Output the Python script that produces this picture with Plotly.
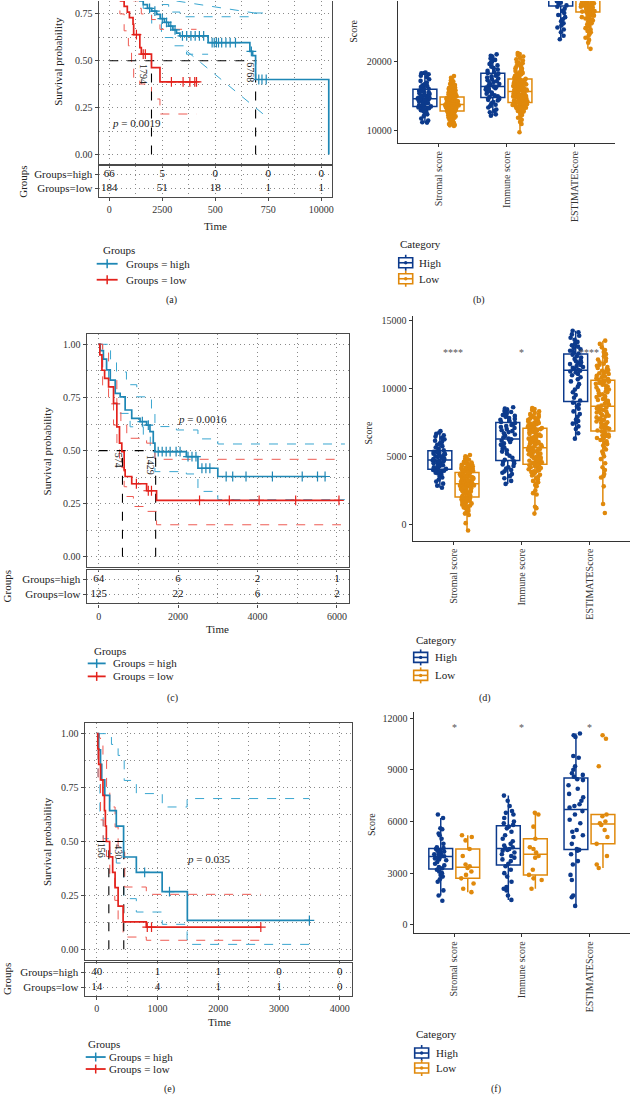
import plotly.graph_objects as go

W, H = 634, 1096
SERIF = "Liberation Serif"
BLUE = "#1E87B5"
BLUE_CI = "#3AA6D0"
RED = "#E3221C"
RED_CI = "#EE5A52"
HI = "#0C3A8C"
LO = "#E0890C"
FRAME = "#4a4a4a"
GRID = "#8a8a8a"
GRID_DASH = "1px,3.5px"

# ---------------- (a) KM data ----------------
a_high_t = [0, 150, 300, 500, 700, 900, 1100, 1300, 1440, 1600, 1800, 2000, 2230, 2400, 2600, 2800, 3000, 3170, 3330, 4660, 6630, 6760, 6900, 10350]
a_high_s = [1.0, 0.99, 0.975, 0.955, 0.93, 0.90, 0.87, 0.84, 0.82, 0.80, 0.78, 0.765, 0.748, 0.725, 0.705, 0.685, 0.665, 0.648, 0.633, 0.597, 0.55, 0.527, 0.40, 0.0]
a_high_cens = [1900, 2150, 2500, 2700, 2900, 3100, 3450, 3650, 3850, 4050, 4250, 4450, 4850, 4950, 5050, 5150, 5300, 5500, 5700, 5950, 6700, 7050, 7200, 7400]
a_low_t = [0, 100, 200, 300, 400, 550, 700, 850, 950, 1120, 1150, 1440, 1510, 1990, 2390, 4113]
a_low_s = [1.0, 0.97, 0.93, 0.90, 0.86, 0.82, 0.79, 0.76, 0.73, 0.695, 0.64, 0.57, 0.535, 0.464, 0.387, 0.387]
a_low_cens = [1280, 1600, 1700, 2930, 3480, 3800, 4030, 4113]
a_high_up_t = [0, 1500, 2000, 2400, 2800, 3330, 6860, 7255]
a_high_up_s = [1.0, 0.95, 0.88, 0.80, 0.76, 0.735, 0.755, 0.76]
a_high_up2_t = [3170, 7255]
a_high_up2_s = [0.819, 0.748]
a_high_lo_t = [0, 800, 1300, 1600, 2000, 2460, 3000, 3640, 4660]
a_high_lo_s = [1.0, 0.92, 0.85, 0.78, 0.70, 0.624, 0.58, 0.535, 0.535]
a_high_lo2_t = [3640, 7255]
a_high_lo2_s = [0.553, 0.216]
a_low_up_t = [0, 900, 1130, 1440, 1510, 1990, 2390, 4113]
a_low_up_s = [1.0, 0.90, 0.82, 0.78, 0.75, 0.72, 0.668, 0.668]
a_low_lo_t = [0, 300, 500, 700, 900, 1050, 1150, 1440, 1990, 2390, 4113]
a_low_lo_s = [1.0, 0.85, 0.75, 0.66, 0.58, 0.475, 0.41, 0.376, 0.296, 0.216, 0.216]
a_median_t = [1990, 6900]
a_median_lab = ["1794", "6768"]
a_median_lab_pos = [(1627, 0.431), (6675, 0.44)]
a_p = ("0.0019", 1297, 0.167)
a_ticks = [0, 2500, 5000, 7500, 10000]
a_ticktext = ["0", "2500", "500", "750", "10000"]
a_minor = [1250, 3750, 6250, 8750]
a_risk_high = [66, 5, 0, 0, 0]
a_risk_low = [184, 51, 18, 1, 1]

# ---------------- (c) KM data ----------------
c_high_t = [0, 40, 120, 200, 292, 417, 542, 667, 833, 1042, 1208, 1292, 1375, 1417, 2208, 2500, 3000, 5700]
c_high_s = [1.0, 0.97, 0.93, 0.88, 0.832, 0.769, 0.753, 0.691, 0.652, 0.636, 0.620, 0.589, 0.535, 0.495, 0.472, 0.417, 0.378, 0.378]
c_high_cens = [1100, 1250, 1500, 1600, 1700, 1800, 1950, 2050, 2250, 2350, 2450, 2600, 2700, 2800, 3210, 3375, 3710, 4375, 5125, 5510, 5700]
c_low_t = [0, 30, 83, 150, 250, 375, 458, 525, 583, 642, 667, 833, 1208, 1458, 6050]
c_low_s = [1.0, 0.95, 0.878, 0.84, 0.80, 0.722, 0.612, 0.535, 0.495, 0.409, 0.378, 0.344, 0.311, 0.266, 0.266]
c_low_cens = [950, 1250, 1330, 2540, 3290, 4040, 4960, 6050]
c_high_up_t = [0, 300, 450, 700, 960, 1330, 1417, 1958, 2500, 3000, 6200]
c_high_up_s = [1.0, 0.93, 0.87, 0.81, 0.753, 0.691, 0.613, 0.597, 0.555, 0.531, 0.531]
c_high_lo_t = [0, 100, 250, 375, 542, 792, 1125, 1300, 1417, 2208, 2500, 3000, 6200]
c_high_lo_s = [1.0, 0.88, 0.80, 0.72, 0.675, 0.612, 0.565, 0.50, 0.401, 0.39, 0.308, 0.269, 0.269]
c_low_up_t = [0, 100, 250, 300, 458, 560, 708, 1208, 1417, 6100]
c_low_up_s = [1.0, 0.96, 0.88, 0.84, 0.72, 0.62, 0.558, 0.535, 0.459, 0.459]
c_low_lo_t = [0, 100, 250, 375, 460, 525, 583, 642, 708, 875, 1208, 1458, 6100]
c_low_lo_s = [1.0, 0.80, 0.72, 0.62, 0.53, 0.46, 0.42, 0.33, 0.284, 0.237, 0.214, 0.151, 0.151]
c_median_t = [600, 1435]
c_median_lab = ["574", "1429"]
c_median_lab_pos = [(492, 0.456), (1292, 0.433)]
c_p = ("0.0016", 2617, 0.647)
c_ticks = [0, 2000, 4000, 6000]
c_ticktext = ["0", "2000", "4000", "6000"]
c_minor = [1000, 3000, 5000]
c_risk_high = [64, 6, 2, 1]
c_risk_low = [125, 22, 6, 2]

# ---------------- (e) KM data ----------------
e_high_t = [0, 30, 60, 80, 130, 210, 320, 440, 650, 1075, 1490, 3500]
e_high_s = [1.0, 0.925, 0.857, 0.786, 0.714, 0.643, 0.571, 0.428, 0.357, 0.268, 0.134, 0.134]
e_high_cens = [787, 1196, 3500]
e_low_t = [0, 15, 30, 60, 100, 125, 140, 156, 210, 260, 300, 350, 432, 814, 2700]
e_low_s = [1.0, 0.929, 0.857, 0.786, 0.714, 0.643, 0.571, 0.50, 0.429, 0.357, 0.286, 0.20, 0.127, 0.103, 0.103]
e_low_cens = [830, 900, 2700]
e_high_up_t = [0, 240, 350, 450, 650, 1077, 1486, 3500]
e_high_up_s = [1.0, 0.95, 0.899, 0.783, 0.722, 0.66, 0.699, 0.699]
e_high_lo_t = [0, 20, 50, 104, 213, 320, 443, 650, 1077, 1486, 3500]
e_high_lo_s = [1.0, 0.80, 0.62, 0.513, 0.444, 0.40, 0.235, 0.173, 0.116, 0.023, 0.023]
e_low_up_t = [0, 40, 60, 100, 160, 213, 300, 350, 459, 814, 2700]
e_low_up_s = [1.0, 0.98, 0.95, 0.90, 0.73, 0.66, 0.567, 0.45, 0.289, 0.255, 0.255]
e_low_lo_t = [0, 20, 60, 104, 159, 213, 295, 350, 432, 814, 2700]
e_low_lo_s = [1.0, 0.78, 0.60, 0.50, 0.43, 0.33, 0.227, 0.12, 0.057, 0.042, 0.042]
e_median_t = [197, 443]
e_median_lab = ["156", "430"]
e_median_lab_pos = [(77, 0.459), (360, 0.451)]
e_p = ("0.035", 1836, 0.42)
e_ticks = [0, 1000, 2000, 3000, 4000]
e_ticktext = ["0", "1000", "2000", "3000", "4000"]
e_minor = [500, 1500, 2500, 3500]
e_risk_high = [40, 1, 1, 0, 0]
e_risk_low = [14, 4, 1, 1, 0]

# ---------------- box plot data ----------------
categories = ["Stromal score", "Immune score", "ESTIMATEScore"]

b_str_hi = [11200, 11250, 11500, 11800, 12150, 12400, 12600, 12750, 12900, 13000, 13150, 13250, 13300, 13400, 13500, 13550, 13650, 13700, 13800, 13900,
            14000, 14050, 14150, 14250, 14350, 14400, 14500, 14550, 14600, 14650, 14700, 14800, 14850, 14950, 15000, 15100, 15150, 15250, 15350, 15450,
            15550, 15650, 15750, 15800, 15950, 16100, 16200, 16350, 16500, 16600, 16800, 17000, 17250, 17500, 17800, 18000, 18200, 18350, 18400, 18450]
b_str_lo = [10700, 10800, 10850, 11000, 11100, 11150, 11300, 11400, 11450, 11600, 11700, 11750, 11900, 11950, 12050, 12100, 12200, 12250, 12350, 12400,
            12450, 12500, 12550, 12600, 12650, 12700, 12750, 12800, 12850, 12880, 12920, 12950, 13000, 13050, 13080, 13100, 13150, 13200, 13230, 13250,
            13300, 13330, 13350, 13400, 13420, 13450, 13500, 13520, 13550, 13600, 13620, 13650, 13680, 13700, 13720, 13740, 13760, 13780, 13790, 13800,
            13820, 13850, 13880, 13900, 13950, 14000, 14020, 14050, 14100, 14120, 14150, 14200, 14250, 14280, 14300, 14350, 14400, 14420, 14450, 14500,
            14550, 14600, 14620, 14650, 14700, 14750, 14780, 14800, 14850, 14880, 14920, 14950, 15000, 15050, 15100, 15200, 15250, 15300, 15400, 15450,
            15550, 15600, 15700, 15800, 15900, 16000, 16100, 16200, 16300, 16400, 16500, 16650, 16800, 16900, 17000, 17150, 17300, 17500, 17700, 17950]
b_imm_hi = [12200, 12400, 12700, 12900, 13100, 13400, 13600, 13800, 14000, 14200, 14400, 14500, 14600, 14700, 14800,
            14900, 15000, 15150, 15300, 15400, 15550, 15700, 15800, 15900, 16000, 16100, 16200, 16300, 16350, 16400,
            16450, 16550, 16700, 16800, 16950, 17100, 17200, 17350, 17500, 17600, 17750, 17900, 18000, 18150, 18300,
            18400, 18550, 18700, 18900, 19100, 19300, 19500, 19700, 19900, 20100, 20300, 20500, 20700, 20900, 21100]
b_imm_lo = [9800, 11000, 11300, 11600, 11900, 12100, 12300, 12500, 12650, 12800, 12900, 13000, 13100, 13200, 13300, 13350, 13400, 13500, 13550, 13600,
            13650, 13700, 13750, 13800, 13850, 13900, 13950, 14000, 14050, 14100, 14150, 14200, 14250, 14300, 14350, 14400, 14450, 14500, 14550, 14600,
            14650, 14700, 14750, 14800, 14850, 14900, 14950, 15000, 15050, 15100, 15150, 15200, 15250, 15300, 15350, 15400, 15450, 15550, 15600, 15700,
            15750, 15800, 15850, 15900, 16000, 16050, 16100, 16150, 16200, 16300, 16350, 16400, 16450, 16500, 16600, 16650, 16700, 16750, 16800, 16850,
            16900, 17000, 17050, 17100, 17150, 17200, 17300, 17350, 17400, 17500, 17550, 17650, 17700, 17800, 17900, 18000, 18100, 18200, 18300, 18400,
            18500, 18600, 18700, 18850, 19000, 19100, 19250, 19400, 19500, 19650, 19800, 19900, 20000, 20200, 20400, 20600, 20800, 21000, 21150, 21300]
b_est_hi = [23300, 23800, 24300, 24700, 25000, 25300, 25600, 25900, 26200, 26500, 26800, 27100, 27400, 27700, 28000,
            28200, 28400, 28600, 28800, 29000, 29300, 29500, 29800, 30000, 30200, 30400, 30600, 30750, 30900, 31000,
            31150, 31300, 31500, 31650, 31800, 32000, 32150, 32300, 32500, 32650, 32800, 33000, 33150, 33300, 33500,
            33700, 33900, 34100, 34300, 34500, 34700, 34900, 35100, 35300, 35600, 35900, 36200, 36600, 37000, 37500]
b_est_lo = [21900, 22800, 23200, 23500, 23800, 24100, 24300, 24500, 24700, 24900, 25100, 25300, 25450, 25600, 25750, 25900, 26000, 26100, 26200, 26300,
            26400, 26500, 26600, 26700, 26800, 26850, 26900, 27000, 27100, 27200, 27300, 27350, 27400, 27500, 27550, 27600, 27700, 27750, 27800, 27900,
            27950, 28000, 28100, 28150, 28200, 28300, 28350, 28400, 28500, 28600, 28650, 28700, 28800, 28900, 29000, 29100, 29200, 29300, 29400, 29500,
            29600, 29700, 29800, 29900, 30000, 30100, 30200, 30300, 30400, 30500, 30550, 30600, 30700, 30800, 30900, 31000, 31100, 31200, 31250, 31300,
            31400, 31450, 31500, 31600, 31700, 31750, 31800, 31850, 31900, 32000, 32100, 32200, 32300, 32400, 32500, 32600, 32700, 32800, 32900, 33000,
            33100, 33200, 33300, 33450, 33600, 33750, 33900, 34050, 34200, 34350, 34500, 34650, 34800, 35000, 35200, 35400, 35600, 35800, 36100, 36500]

d_str_hi = [2700, 2850, 3000, 3150, 3300, 3450, 3550, 3650, 3750, 3800, 3850, 3900, 3950, 4000, 4030,
            4080, 4150, 4200, 4250, 4300, 4350, 4400, 4450, 4500, 4550, 4580, 4620, 4650, 4680, 4700,
            4750, 4800, 4850, 4900, 4950, 5000, 5050, 5100, 5150, 5200, 5230, 5260, 5300, 5340, 5380,
            5450, 5550, 5650, 5750, 5850, 5950, 6050, 6150, 6250, 6350, 6450, 6550, 6650, 6750, 6850]
d_str_lo = [-440, 100, 700, 800, 900, 1000, 1100, 1150, 1200, 1250, 1300, 1350, 1400, 1450, 1500, 1550, 1600, 1650, 1700, 1720,
            1750, 1780, 1800, 1830, 1860, 1890, 1920, 1950, 1980, 2000, 2050, 2100, 2150, 2200, 2250, 2300, 2350, 2400, 2430, 2460,
            2500, 2530, 2560, 2600, 2630, 2660, 2700, 2720, 2750, 2780, 2800, 2830, 2850, 2870, 2890, 2910, 2930, 2950, 2970, 2980,
            3000, 3030, 3060, 3090, 3120, 3150, 3180, 3210, 3240, 3270, 3300, 3330, 3360, 3390, 3420, 3450, 3480, 3510, 3540, 3570,
            3600, 3620, 3640, 3660, 3680, 3700, 3730, 3760, 3790, 3810, 3840, 3870, 3900, 3930, 3960, 4000, 4030, 4060, 4090, 4120,
            4150, 4180, 4210, 4240, 4270, 4300, 4340, 4380, 4420, 4460, 4500, 4550, 4600, 4650, 4700, 4750, 4820, 4900, 5000, 5100]
d_imm_hi = [2980, 3200, 3400, 3550, 3700, 3800, 3900, 4000, 4100, 4200, 4300, 4400, 4500, 4580, 4640,
            4750, 4900, 5050, 5200, 5350, 5450, 5550, 5650, 5750, 5850, 5950, 6050, 6150, 6200, 6250,
            6300, 6400, 6500, 6600, 6700, 6780, 6850, 6920, 7000, 7080, 7150, 7220, 7300, 7380, 7450,
            7520, 7600, 7680, 7750, 7820, 7900, 7970, 8040, 8100, 8180, 8250, 8330, 8420, 8500, 8600]
d_imm_lo = [800, 1200, 1300, 2200, 2300, 2500, 2800, 2900, 3000, 3100, 3200, 3300, 3400, 3500, 3600, 3650, 3700, 3800, 3850, 3900,
            3950, 4000, 4050, 4100, 4150, 4200, 4250, 4300, 4350, 4400, 4440, 4480, 4520, 4560, 4600, 4640, 4680, 4720, 4760, 4800,
            4840, 4880, 4920, 4960, 5000, 5050, 5100, 5150, 5200, 5240, 5280, 5320, 5360, 5400, 5440, 5480, 5520, 5550, 5580, 5600,
            5650, 5700, 5750, 5800, 5850, 5900, 5950, 6000, 6050, 6100, 6150, 6200, 6250, 6300, 6350, 6400, 6450, 6500, 6550, 6600,
            6650, 6700, 6750, 6800, 6850, 6900, 6940, 6970, 7000, 7040, 7080, 7120, 7160, 7200, 7240, 7280, 7320, 7360, 7400, 7440,
            7480, 7520, 7560, 7600, 7640, 7680, 7720, 7760, 7800, 7850, 7900, 7950, 8000, 8050, 8100, 8200, 8300, 8400, 8480, 8550]
d_est_hi = [6300, 6700, 7000, 7200, 7400, 7500, 7600, 7700, 7900, 8100, 8300, 8500, 8650, 8800, 8940,
            9100, 9300, 9500, 9700, 9900, 10100, 10300, 10500, 10650, 10800, 10950, 11050, 11150, 11230, 11290,
            11350, 11420, 11490, 11560, 11630, 11700, 11770, 11840, 11910, 11980, 12050, 12150, 12250, 12350, 12460,
            12550, 12650, 12750, 12850, 12950, 13050, 13150, 13250, 13400, 13550, 13700, 13850, 13950, 14100, 14220]
d_est_lo = [850, 1500, 2800, 3450, 3550, 3700, 4000, 4200, 4500, 4800, 5000, 5200, 5350, 5500, 5650, 5800, 5900, 6000, 6100, 6200,
            6300, 6350, 6400, 6450, 6500, 6550, 6600, 6700, 6780, 6840, 6900, 6960, 7020, 7080, 7140, 7200, 7260, 7320, 7380, 7440,
            7500, 7560, 7620, 7680, 7740, 7800, 7860, 7920, 7980, 8040, 8100, 8160, 8220, 8280, 8340, 8400, 8460, 8520, 8590, 8650,
            8720, 8790, 8860, 8930, 9000, 9070, 9140, 9210, 9280, 9350, 9420, 9490, 9560, 9630, 9700, 9770, 9840, 9910, 9980, 10050,
            10120, 10190, 10260, 10320, 10380, 10430, 10470, 10500, 10530, 10560, 10620, 10680, 10740, 10800, 10860, 10920, 10980, 11040, 11100, 11160,
            11220, 11280, 11340, 11400, 11480, 11560, 11640, 11720, 11800, 11900, 12000, 12100, 12200, 12350, 12500, 12650, 12800, 13000, 13250, 13490]

f_str_hi = [1400, 1700, 2000, 2500, 2650, 2800, 2900, 3000, 3100, 3200, 3280, 3350, 3450, 3550, 3650, 3750, 3800, 3850, 3900, 3950,
            3980, 4000, 4050, 4100, 4150, 4200, 4250, 4300, 4350, 4400, 4450, 4500, 4700, 5000, 5200, 5300, 5550, 5600, 6200, 6400]
f_str_lo = [1900, 2100, 2400, 2700, 2900, 3100, 3300, 3400, 3500, 4000, 4400, 4900, 5100, 5200]
f_imm_hi = [1450, 1700, 2000, 2100, 2200, 2500, 2800, 3000, 3200, 3400, 3550, 3700, 3800, 3900, 4000, 4100, 4200, 4300, 4350, 4400,
            4450, 4500, 4600, 4700, 4850, 5000, 5200, 5400, 5600, 5700, 5800, 5900, 6000, 6200, 6400, 6500, 6600, 6900, 7200, 7500]
f_imm_lo = [2100, 2600, 2700, 2900, 3200, 3900, 4000, 4200, 4400, 4500, 5000, 5700, 6400, 6500]
f_est_hi = [1100, 1600, 1700, 2600, 2900, 3500, 3700, 4100, 4300, 4350, 4400, 4700, 5100, 5200, 5400, 5500, 5900, 6100, 6400, 6600,
            6800, 6900, 7000, 7200, 7400, 7600, 7900, 8100, 8400, 8450, 8600, 8700, 8800, 9000, 9200, 9700, 9800, 10900, 11000, 11100]
f_est_lo = [3300, 3500, 4000, 4700, 5100, 5500, 5800, 5900, 6000, 6300, 6400, 9200, 10800, 11000]

d_stars = ["****", "*", "****"]
f_stars = ["*", "*", "*"]

km_legend_labels = ["Groups = high", "Groups = low"]
box_legend_labels = ["High", "Low"]


# ---------------- helpers ----------------
def dx(a, b):
    return [a / W, b / W]


def dy(top, bottom):
    return [max(0, 1 - bottom / H), min(1, 1 - top / H)]


def px(x):
    return x / W


def py(y):
    return 1 - y / H


def surv_at(ts, ss, t):
    v = ss[0]
    for ti, si in zip(ts, ss):
        if ti <= t:
            v = si
    return v


fig = go.Figure()
annotations = []
shapes = []


def ann(text, x, y, size=11, angle=0, color="#222", xanchor="center"):
    annotations.append(dict(text=text, x=px(x), y=py(y), xref="paper", yref="paper",
                            showarrow=False, textangle=angle, xanchor=xanchor, yanchor="middle",
                            font=dict(family=SERIF, size=size, color=color)))


def pline(x0, y0, x1, y1, color, width):
    shapes.append(dict(type="line", xref="paper", yref="paper", x0=px(x0), y0=py(y0), x1=px(x1), y1=py(y1),
                       line=dict(color=color, width=width)))


def tick_font(size=10, color="#333"):
    return dict(family=SERIF, size=size, color=color)


def km_legend(tx, ty, ix0, ix1, txt_x, y_hi, y_lo):
    ann("Groups", tx, ty, 11, xanchor="left")
    for y, col, lab in [(y_hi, BLUE, km_legend_labels[0]), (y_lo, RED, km_legend_labels[1])]:
        pline(ix0, y, ix1, y, col, 1.8)
        mid = (ix0 + ix1) / 2
        pline(mid, y - 4.5, mid, y + 4.5, col, 1.5)
        ann(lab, txt_x, y, 11, xanchor="left")


def box_legend(tx, ty, ix0, txt_x, y_hi, y_lo):
    ann("Category", tx, ty, 11, xanchor="left")
    for y, col, lab in [(y_hi, HI, box_legend_labels[0]), (y_lo, LO, box_legend_labels[1])]:
        shapes.append(dict(type="rect", xref="paper", yref="paper", x0=px(ix0), x1=px(ix0 + 14),
                           y0=py(y + 5), y1=py(y - 5), line=dict(color=col, width=1.6)))
        pline(ix0, y, ix0 + 14, y, col, 1.6)
        pline(ix0 + 7, y - 8, ix0 + 7, y - 5, col, 1.6)
        pline(ix0 + 7, y + 5, ix0 + 7, y + 8, col, 1.6)
        shapes.append(dict(type="circle", xref="paper", yref="paper", x0=px(ix0 + 5.3), x1=px(ix0 + 8.7),
                           y0=py(y + 1.7), y1=py(y - 1.7), fillcolor=col, line=dict(width=0)))
        ann(lab, txt_x, y, 11, xanchor="left")


def km_panel(k_main, k_tab, xdom, ymain_dom, ytab_dom, xrange, ytop, ticks, ticktext, minor,
             high, low, cis, medians, med_labels, med_pos, pval, risk_hi, risk_lo, top_line):
    xm, ym = ("x" if k_main == 1 else f"x{k_main}"), ("y" if k_main == 1 else f"y{k_main}")
    xt, yt = f"x{k_tab}", f"y{k_tab}"
    for (ts, ss, col, shape) in cis:
        fig.add_trace(go.Scatter(x=ts, y=ss, mode="lines", xaxis=xm, yaxis=ym, showlegend=False,
                                 line=dict(color=col, width=1, dash="dash", shape=shape), hoverinfo="skip"))
    fig.add_trace(go.Scatter(x=[0, max(medians)], y=[0.5, 0.5], mode="lines", xaxis=xm, yaxis=ym,
                             showlegend=False, line=dict(color="black", width=1.1, dash="dash")))
    for m in medians:
        fig.add_trace(go.Scatter(x=[m, m], y=[0, 0.5], mode="lines", xaxis=xm, yaxis=ym,
                                 showlegend=False, line=dict(color="black", width=1.1, dash="dash")))
    for (ts, ss, cens, col) in [high + (BLUE,), low + (RED,)]:
        fig.add_trace(go.Scatter(x=ts, y=ss, mode="lines", xaxis=xm, yaxis=ym, showlegend=False,
                                 line=dict(color=col, width=1.7, shape="hv")))
        fig.add_trace(go.Scatter(x=cens, y=[surv_at(ts, ss, c) for c in cens], mode="markers",
                                 xaxis=xm, yaxis=ym, showlegend=False,
                                 marker=dict(symbol="cross-thin", size=7, line=dict(color=col, width=1.2))))
    for lab, (tx, sy) in zip(med_labels, med_pos):
        annotations.append(dict(text=lab, x=tx, y=sy, xref=xm, yref=ym, showarrow=False, textangle=90,
                                font=dict(family=SERIF, size=10, color="#222")))
    annotations.append(dict(text=f"<i>p</i> = {pval[0]}", x=pval[1], y=pval[2], xref=xm, yref=ym,
                            showarrow=False, font=dict(family=SERIF, size=11, color="#222")))
    fig.add_trace(go.Scatter(x=ticks, y=[2] * len(ticks), mode="text", text=[str(v) for v in risk_hi],
                             xaxis=xt, yaxis=yt, showlegend=False,
                             textfont=dict(family=SERIF, size=11, color="#111")))
    fig.add_trace(go.Scatter(x=ticks, y=[1] * len(ticks), mode="text", text=[str(v) for v in risk_lo],
                             xaxis=xt, yaxis=yt, showlegend=False,
                             textfont=dict(family=SERIF, size=11, color="#111")))

    grid = dict(showgrid=True, gridcolor=GRID, griddash=GRID_DASH, gridwidth=1)
    minor_x = dict(tickvals=minor, showgrid=True, gridcolor=GRID, griddash=GRID_DASH, gridwidth=1, ticks="")
    lay = {}
    lay["xaxis" if k_main == 1 else f"xaxis{k_main}"] = dict(
        domain=xdom, range=xrange, anchor=ym, tickvals=ticks, showticklabels=False, ticks="outside",
        ticklen=3, tickcolor=FRAME, showline=True, linecolor=FRAME, linewidth=1.3,
        mirror=top_line, zeroline=False, minor=minor_x, **grid)
    lay["yaxis" if k_main == 1 else f"yaxis{k_main}"] = dict(
        domain=ymain_dom, range=[-0.05, ytop], anchor=xm, tickvals=[0, 0.25, 0.5, 0.75, 1.0],
        ticktext=["0.00", "0.25", "0.50", "0.75", "1.00"], ticks="outside", ticklen=3, tickcolor=FRAME,
        showline=True, linecolor=FRAME, linewidth=1.3, mirror=True, zeroline=False, tickfont=tick_font(),
        minor=dict(tickvals=[0.125, 0.375, 0.625, 0.875], showgrid=True, gridcolor=GRID, griddash=GRID_DASH,
                   ticks=""),
        **grid)
    lay[f"xaxis{k_tab}"] = dict(
        domain=xdom, range=xrange, anchor=yt, tickvals=ticks, ticktext=ticktext, ticks="outside",
        ticklen=3, tickcolor=FRAME, showline=True, linecolor=FRAME, linewidth=1.3, mirror=True,
        zeroline=False, tickfont=tick_font(), minor=minor_x, **grid)
    lay[f"yaxis{k_tab}"] = dict(
        domain=ytab_dom, range=[0.4, 2.6], anchor=xt, tickvals=[1, 2], ticktext=["Groups=low", "Groups=high"],
        ticks="outside", ticklen=3, tickcolor=FRAME, showline=True, linecolor=FRAME, linewidth=1.3,
        mirror=True, zeroline=False, tickfont=tick_font(11, "#222"), **grid)
    fig.update_layout(**lay)


def box_panel(k, xdom, ydom, yrange, yticks, hi_lists, lo_lists, stars, star_y):
    xa, ya = f"x{k}", f"y{k}"
    for name, lists, col in [("High", hi_lists, HI), ("Low", lo_lists, LO)]:
        xs, ys = [], []
        for c, vals in zip(categories, lists):
            xs += [c] * len(vals)
            ys += vals
        fig.add_trace(go.Box(x=xs, y=ys, name=name, xaxis=xa, yaxis=ya, showlegend=False, offsetgroup=name,
                             boxpoints="all", jitter=0.65, pointpos=0,
                             marker=dict(color=col, size=4.6, opacity=1, line=dict(width=0)),
                             line=dict(color=col, width=1.5), fillcolor="rgba(255,255,255,0)",
                             whiskerwidth=0))
    for c, s in zip(categories, stars):
        if s:
            annotations.append(dict(text=s, x=c, y=star_y, xref=xa, yref=ya, showarrow=False,
                                    font=dict(family=SERIF, size=10, color="#555")))
    fig.update_layout(**{
        f"xaxis{k}": dict(domain=xdom, type="category", categoryorder="array", categoryarray=categories,
                          range=[-0.6, 2.6], anchor=ya, tickangle=-90, ticks="outside", ticklen=3,
                          tickcolor="#333", showline=True, linecolor="#333", linewidth=1.2,
                          showgrid=False, tickfont=tick_font(10, "#333")),
        f"yaxis{k}": dict(domain=ydom, range=yrange, anchor=xa, tickvals=yticks, tickformat="d",
                          ticks="outside", ticklen=3,
                          tickcolor="#333", showline=True, linecolor="#333", linewidth=1.2, showgrid=False,
                          zeroline=False, tickfont=tick_font(10, "#333")),
    })


# ---------------- panels ----------------
km_panel(1, 2, dx(99, 333), dy(0, 163), dy(165, 196), [-500, 10500], 0.819, a_ticks, a_ticktext, a_minor,
         (a_high_t, a_high_s, a_high_cens), (a_low_t, a_low_s, a_low_cens),
         [(a_high_up_t, a_high_up_s, BLUE_CI, "hv"), (a_high_up2_t, a_high_up2_s, BLUE_CI, "linear"),
          (a_high_lo_t, a_high_lo_s, BLUE_CI, "hv"), (a_high_lo2_t, a_high_lo2_s, BLUE_CI, "linear"),
          (a_low_up_t, a_low_up_s, RED_CI, "hv"), (a_low_lo_t, a_low_lo_s, RED_CI, "hv")],
         a_median_t, a_median_lab, a_median_lab_pos, a_p, a_risk_high, a_risk_low, False)

box_panel(3, dx(399, 617), dy(0, 142), [8261, 28841], [10000, 20000, 30000],
          [b_str_hi, b_imm_hi, b_est_hi], [b_str_lo, b_imm_lo, b_est_lo], ["", "", ""], 0)

km_panel(4, 5, dx(87, 350), dy(333, 567), dy(570, 603), [-300, 6300], 1.05, c_ticks, c_ticktext, c_minor,
         (c_high_t, c_high_s, c_high_cens), (c_low_t, c_low_s, c_low_cens),
         [(c_high_up_t, c_high_up_s, BLUE_CI, "hv"), (c_high_lo_t, c_high_lo_s, BLUE_CI, "hv"),
          (c_low_up_t, c_low_up_s, RED_CI, "hv"), (c_low_lo_t, c_low_lo_s, RED_CI, "hv")],
         c_median_t, c_median_lab, c_median_lab_pos, c_p, c_risk_high, c_risk_low, True)

box_panel(6, dx(414, 632), dy(315, 540), [-1173, 15320], [0, 5000, 10000, 15000],
          [d_str_hi, d_imm_hi, d_est_hi], [d_str_lo, d_imm_lo, d_est_lo], d_stars, 12600)

km_panel(7, 8, dx(85, 353), dy(722.5, 960), dy(963, 996), [-200, 4200], 1.05, e_ticks, e_ticktext, e_minor,
         (e_high_t, e_high_s, e_high_cens), (e_low_t, e_low_s, e_low_cens),
         [(e_high_up_t, e_high_up_s, BLUE_CI, "hv"), (e_high_lo_t, e_high_lo_s, BLUE_CI, "hv"),
          (e_low_up_t, e_low_up_s, RED_CI, "hv"), (e_low_lo_t, e_low_lo_s, RED_CI, "hv")],
         e_median_t, e_median_lab, e_median_lab_pos, e_p, e_risk_high, e_risk_low, True)

box_panel(9, dx(415, 632), dy(712, 933), [-480, 12330], [0, 3000, 6000, 9000, 12000],
          [f_str_hi, f_imm_hi, f_est_hi], [f_str_lo, f_imm_lo, f_est_lo], f_stars, 11440)

# ---------------- titles, labels, legends ----------------
ann("Survival probability", 58, 60, 11, -90)
ann("Groups", 23, 181, 11, -90)
ann("Time", 216, 225, 11)
ann("Survival probability", 47, 450, 11, -90)
ann("Groups", 7, 586, 11, -90)
ann("Time", 218, 629, 11)
ann("Survival probability", 47, 841, 11, -90)
ann("Groups", 7, 979, 11, -90)
ann("Time", 220, 1022, 11)
ann("Score", 355, 30, 10, -90)
ann("Score", 370, 432, 10, -90)
ann("Score", 372, 824, 10, -90)
ann("(a)", 172, 299, 10)
ann("(b)", 481, 299, 10)
ann("(c)", 173, 698, 10)
ann("(d)", 487, 698, 10)
ann("(e)", 170, 1089, 10)
ann("(f)", 498, 1089, 10)

km_legend(101, 249, 97, 118, 124, 263, 279)
km_legend(92, 651, 88, 106, 111, 663, 676)
km_legend(86, 1044, 86, 106, 107, 1057, 1069)
box_legend(399, 243, 400, 418, 262, 278)
box_legend(415, 640, 415, 434, 657, 675)
box_legend(415, 1034, 416, 435, 1053, 1068)

fig.update_layout(
    width=W, height=H, margin=dict(l=0, r=0, t=0, b=0),
    paper_bgcolor="white", plot_bgcolor="white",
    font=dict(family=SERIF, size=10, color="#222"),
    boxmode="group", boxgap=0.2, boxgroupgap=0.12,
    showlegend=False,
    annotations=annotations, shapes=shapes,
)

fig.write_html("out.html", config={"displayModeBar": False},
               post_script="document.body.style.margin='0';document.body.style.overflow='hidden';")
